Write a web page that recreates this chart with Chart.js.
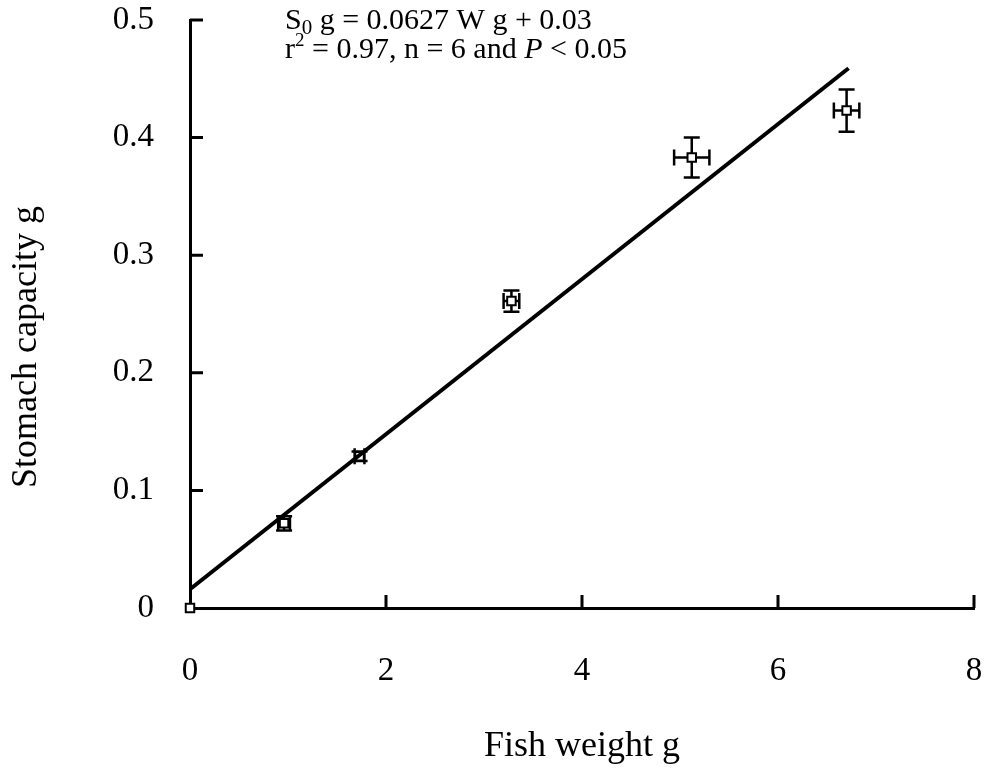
<!DOCTYPE html>
<html>
<head>
<meta charset="utf-8">
<script src="https://cdn.jsdelivr.net/npm/chart.js@4.4.1/dist/chart.umd.min.js"></script>
<style>
  body { margin: 0; background: #fff; }
</style>
</head>
<body>
<canvas id="fishChart" width="985" height="774"></canvas>
<script>
// mean values
const fishWeight = [0, 0.96, 1.73, 3.28, 5.12, 6.70];
const stomachCap = [0, 0.072, 0.129, 0.261, 0.383, 0.423];
const weightErr = [0, 0.06, 0.05, 0.08, 0.18, 0.13];
const capErr = [0, 0.006, 0.004, 0.009, 0.017, 0.018];
// regression line as drawn
const fitX = [0, 6.72];
const fitY = [0.016, 0.459];
const xTicks = [0, 2, 4, 6, 8];
const yTicks = [0, 0.1, 0.2, 0.3, 0.4, 0.5];

const serif = "'Liberation Serif', 'Times New Roman', serif";

// error bars + inward ticks + y title + equation text
const extras = {
    id: 'extras',
    beforeDatasetsDraw(chart) {
        const ctx = chart.ctx, xs = chart.scales.x, ys = chart.scales.y;
        ctx.save();
        ctx.strokeStyle = '#000';
        ctx.lineWidth = 2.5;
        const cap = 8;
        fishWeight.forEach((w, i) => {
            if (!weightErr[i] && !capErr[i]) return;
            const px = xs.getPixelForValue(w), py = ys.getPixelForValue(stomachCap[i]);
            const y1 = ys.getPixelForValue(stomachCap[i] - capErr[i]);
            const y2 = ys.getPixelForValue(stomachCap[i] + capErr[i]);
            const x1 = xs.getPixelForValue(w - weightErr[i]);
            const x2 = xs.getPixelForValue(w + weightErr[i]);
            ctx.beginPath();
            ctx.moveTo(px, y1); ctx.lineTo(px, y2);
            ctx.moveTo(px - cap, y1); ctx.lineTo(px + cap, y1);
            ctx.moveTo(px - cap, y2); ctx.lineTo(px + cap, y2);
            ctx.moveTo(x1, py); ctx.lineTo(x2, py);
            ctx.moveTo(x1, py - cap); ctx.lineTo(x1, py + cap);
            ctx.moveTo(x2, py - cap); ctx.lineTo(x2, py + cap);
            ctx.stroke();
        });
        ctx.restore();
    },
    afterDraw(chart) {
        const ctx = chart.ctx, xs = chart.scales.x, ys = chart.scales.y;
        const area = chart.chartArea;
        ctx.save();
        ctx.strokeStyle = '#000';
        ctx.lineWidth = 3;
        ctx.beginPath();
        xTicks.forEach(v => {
            if (v === 0) return;
            const px = xs.getPixelForValue(v);
            ctx.moveTo(px, area.bottom); ctx.lineTo(px, area.bottom - 13);
        });
        yTicks.forEach(v => {
            if (v === 0) return;
            const py = ys.getPixelForValue(v);
            ctx.moveTo(area.left, py); ctx.lineTo(area.left + 13, py);
        });
        ctx.stroke();

        // y axis title
        ctx.fillStyle = '#000';
        ctx.font = '36px ' + serif;
        ctx.textAlign = 'center';
        ctx.textBaseline = 'alphabetic';
        ctx.translate(36, 347);
        ctx.rotate(-Math.PI / 2);
        ctx.fillText('Stomach capacity g', 0, 0);
        ctx.setTransform(1, 0, 0, 1, 0, 0);

        // regression text
        ctx.textAlign = 'left';
        let x = 285;
        const put = (txt, font, dy) => {
            ctx.font = font;
            ctx.fillText(txt, x, dy);
            x += ctx.measureText(txt).width;
        };
        put('S', '30px ' + serif, 29);
        put('0', '21px ' + serif, 34);
        put(' g = 0.0627 W g + 0.03', '30px ' + serif, 29);
        x = 285;
        put('r', '30px ' + serif, 58);
        put('2', '19px ' + serif, 46);
        put(' = 0.97, n = 6 and ', '30px ' + serif, 58);
        put('P', 'italic 30px ' + serif, 58);
        put(' < 0.05', '30px ' + serif, 58);
        ctx.restore();
    }
};

new Chart(document.getElementById('fishChart').getContext('2d'), {
    type: 'scatter',
    data: {
        datasets: [{
            type: 'line',
            data: fitX.map((v, i) => ({ x: v, y: fitY[i] })),
            borderColor: '#000',
            borderWidth: 4,
            pointRadius: 0,
            fill: false
        }, {
            data: fishWeight.map((v, i) => ({ x: v, y: stomachCap[i] })),
            pointStyle: 'rect',
            pointRadius: 6,
            backgroundColor: '#fff',
            borderColor: '#000',
            borderWidth: 2,
            clip: false
        }]
    },
    options: {
        responsive: false,
        animation: false,
        layout: { padding: { top: 20, right: 11, left: 0, bottom: 0 } },
        plugins: { legend: { display: false }, tooltip: { enabled: false } },
        scales: {
            x: {
                min: 0, max: 8,
                grid: { display: false },
                border: { display: true, color: '#000', width: 3 },
                ticks: {
                    stepSize: 2, padding: 36, color: '#000',
                    font: { family: serif, size: 33 }
                },
                title: {
                    display: true, text: 'Fish weight g', color: '#000',
                    font: { family: serif, size: 36 }, padding: { top: 0, bottom: 6 }
                },
                afterFit: s => { s.height = 166; s.paddingLeft = 0; s.paddingRight = 0; }
            },
            y: {
                min: 0, max: 0.5,
                grid: { display: false },
                border: { display: true, color: '#000', width: 3 },
                ticks: {
                    stepSize: 0.1, padding: 28, color: '#000',
                    font: { family: serif, size: 33 }
                },
                afterFit: s => { s.width = 190; s.paddingTop = 0; s.paddingBottom = 0; }
            }
        }
    },
    plugins: [extras]
});
</script>
</body>
</html>
